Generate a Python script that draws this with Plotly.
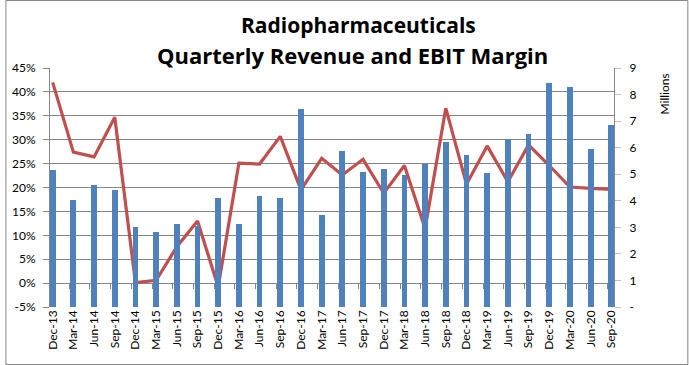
import plotly.graph_objects as go

quarters = ["Dec-13", "Mar-14", "Jun-14", "Sep-14", "Dec-14", "Mar-15", "Jun-15", "Sep-15",
            "Dec-15", "Mar-16", "Jun-16", "Sep-16", "Dec-16", "Mar-17", "Jun-17", "Sep-17",
            "Dec-17", "Mar-18", "Jun-18", "Sep-18", "Dec-18", "Mar-19", "Jun-19", "Sep-19",
            "Dec-19", "Mar-20", "Jun-20", "Sep-20"]

revenue_millions = [5.16, 4.03, 4.60, 4.41, 3.02, 2.82, 3.13, 3.06,
                    4.12, 3.13, 4.18, 4.11, 7.46, 3.47, 5.88, 5.07,
                    5.20, 4.97, 5.40, 6.21, 5.73, 5.05, 6.32, 6.52,
                    8.44, 8.30, 5.96, 6.86]

ebit_margin_pct = [42.0, 27.4, 26.4, 34.7, 0.1, 0.6, 7.6, 13.0,
                   -0.8, 25.1, 24.9, 30.7, 19.5, 26.1, 22.6, 25.9,
                   18.8, 24.6, 11.4, 36.6, 20.7, 28.7, 21.2, 28.9,
                   24.6, 20.1, 19.8, 19.6]

left_ticks = [-5, 0, 5, 10, 15, 20, 25, 30, 35, 40, 45]
left_ticktext = ["-5%", "0%", "5%", "10%", "15%", "20%", "25%", "30%", "35%", "40%", "45%"]
right_ticks = [0, 1, 2, 3, 4, 5, 6, 7, 8, 9]
right_ticktext = ["-", "1", "2", "3", "4", "5", "6", "7", "8", "9"]

FONT = "Lato, 'Open Sans', sans-serif"
TITLE_FONT = "'Open Sans', Lato, sans-serif"
GRID = "#868686"

fig = go.Figure()
fig.add_trace(go.Bar(x=quarters, y=revenue_millions, yaxis="y2", xaxis="x",
                     marker=dict(color="#4F81BD", line=dict(width=0)), width=0.28,
                     name="Revenue"))
fig.add_trace(go.Scatter(x=quarters, y=ebit_margin_pct, yaxis="y", xaxis="x",
                         mode="lines", line=dict(color="#C0504D", width=3.2),
                         name="EBIT Margin"))
# empty helper trace so the tick-mark axis at 0% is drawn
fig.add_trace(go.Scatter(x=quarters, y=[None] * len(quarters), xaxis="x2", yaxis="y",
                         mode="lines", showlegend=False, hoverinfo="skip"))

W, H = 689, 365
ml, mr, mt, mb = 45, 75, 68, 58
pw, ph = W - ml - mr, H - mt - mb

xr = [-0.13, len(quarters) - 1 + 0.13]
xr2 = [xr[0] + 0.2, xr[1] + 0.2]

fig.update_layout(
    width=W, height=H,
    margin=dict(l=ml, r=mr, t=mt, b=mb),
    paper_bgcolor="white", plot_bgcolor="white",
    showlegend=False, bargap=0,
    font=dict(family=FONT, size=12, color="black"),
    xaxis=dict(type="category", range=xr, showgrid=False, ticks="",
               tickangle=-90, tickfont=dict(size=12), showline=False,
               zeroline=False, fixedrange=True),
    xaxis2=dict(type="category", overlaying="x", anchor="free", position=0.1,
                side="bottom", range=xr2, showgrid=False, ticks="outside",
                ticklen=5, tickcolor=GRID, showticklabels=False, showline=False,
                zeroline=False),
    yaxis=dict(range=[-5, 45], tickvals=left_ticks, ticktext=left_ticktext,
               showgrid=True, gridcolor=GRID, gridwidth=1, zeroline=False,
               showline=True, linecolor=GRID, ticks="outside", ticklen=6,
               tickcolor=GRID, tickfont=dict(size=12), ticklabelstandoff=5),
    yaxis2=dict(range=[0, 9], tickvals=right_ticks, ticktext=right_ticktext,
                overlaying="y", side="right", showgrid=False, zeroline=False,
                showline=True, linecolor=GRID, ticks="outside", ticklen=6,
                tickcolor="#BFBFBF", tickfont=dict(size=12), ticklabelstandoff=6),
    annotations=[
        dict(text="<b>Radiopharmaceuticals</b>", xref="paper", yref="paper",
             x=(356 - ml) / pw, y=(H - mb - 25) / ph, showarrow=False,
             font=dict(size=21, family=TITLE_FONT), xanchor="center", yanchor="middle"),
        dict(text="<b>Quarterly Revenue and EBIT Margin</b>", xref="paper", yref="paper",
             x=(350 - ml) / pw, y=(H - mb - 55) / ph, showarrow=False,
             font=dict(size=22, family=TITLE_FONT), xanchor="center", yanchor="middle"),
        dict(text="Millions", xref="paper", yref="paper", textangle=-90,
             x=(665 - ml) / pw, y=(H - mb - 94) / ph, showarrow=False,
             font=dict(size=12, family=FONT), xanchor="center", yanchor="middle"),
    ],
    shapes=[
        dict(type="rect", xref="paper", yref="paper",
             x0=(0.5 - ml) / pw, x1=(W - 0.5 - ml) / pw,
             y0=-(mb - 0.5) / ph, y1=1 + (mt - 0.5) / ph,
             line=dict(color="#868686", width=1), fillcolor="rgba(0,0,0,0)", layer="below"),
    ],
)

fig.write_html("out.html", config={"displayModeBar": False},
               post_script="document.body.style.margin='0';")
